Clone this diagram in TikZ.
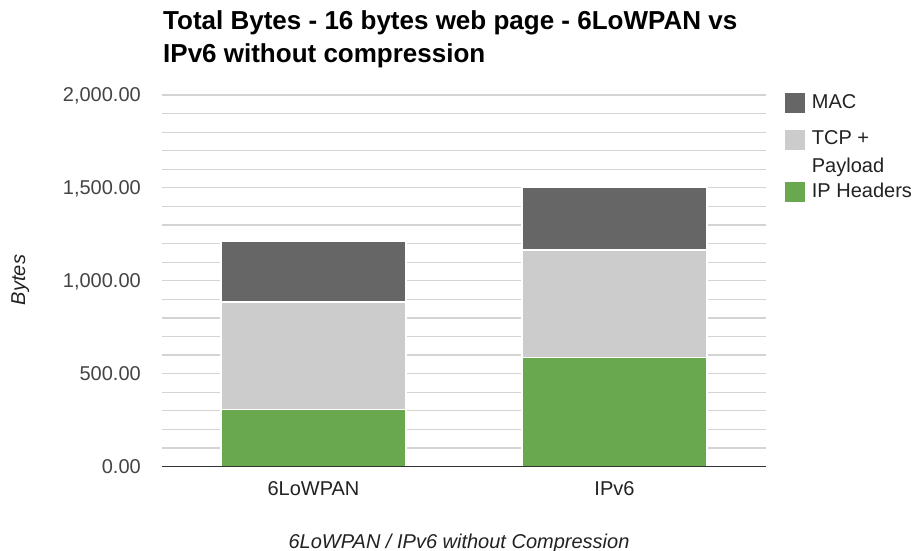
\documentclass[tikz,border=0pt]{standalone}
\usepackage{fontspec}
\setmainfont{Liberation Sans}
\definecolor{macc}{HTML}{666666}
\definecolor{tcpc}{HTML}{CCCCCC}
\definecolor{ipc}{HTML}{6AA84F}
\definecolor{gridc}{HTML}{D4D4D4}
\definecolor{labc}{HTML}{444444}
\definecolor{txtc}{HTML}{222222}
\definecolor{axisc}{HTML}{333333}
\begin{document}
\begin{tikzpicture}[x=1pt,y=-1pt,
  ticklab/.style={anchor=base east,font=\fontsize{20}{24}\selectfont,text=labc,inner sep=0pt},
  catlab/.style={anchor=base,font=\fontsize{20}{24}\selectfont,text=txtc,inner sep=0pt},
  axtitle/.style={font=\fontsize{20}{24}\selectfont\itshape,text=txtc,inner sep=0pt},
  legtext/.style={anchor=base west,font=\fontsize{20}{24}\selectfont,text=txtc,inner sep=0pt},
  titletext/.style={anchor=base west,font=\fontsize{26}{30}\selectfont\bfseries,text=black,inner sep=0pt},
  gridline/.style={draw=gridc,line width=1.2pt},
  seg/.style={draw=white,line width=1.2pt}]
\useasboundingbox (0,0) rectangle (914,551);
\fill[white] (0,0) rectangle (914,551);
% title
\node[titletext] (title1) at (163,29.5) {Total Bytes - 16 bytes web page - 6LoWPAN vs};
\node[titletext] (title2) at (163,62.7) {IPv6 without compression};
% grid
\foreach \i in {1,...,20}
  \draw[gridline] (162,{466.5-\i*18.575}) -- (766,{466.5-\i*18.575});
% tick labels
\node[ticklab] (t0) at (141,473.5) {0.00};
\node[ticklab] (t500) at (141,380.6) {500.00};
\node[ticklab] (t1000) at (141,287.75) {1,000.00};
\node[ticklab] (t1500) at (141,194.9) {1,500.00};
\node[ticklab] (t2000) at (141,102) {2,000.00};
% bars: 6LoWPAN
\filldraw[fill=ipc,seg] (221,466.5) rectangle (406,{466.5-308*0.18575});
\filldraw[fill=tcpc,seg] (221,{466.5-308*0.18575}) rectangle (406,{466.5-886*0.18575});
\filldraw[fill=macc,seg] (221,{466.5-886*0.18575}) rectangle (406,{466.5-1214*0.18575});
% bars: IPv6
\filldraw[fill=ipc,seg] (522,466.5) rectangle (707,{466.5-588*0.18575});
\filldraw[fill=tcpc,seg] (522,{466.5-588*0.18575}) rectangle (707,{466.5-1166*0.18575});
\filldraw[fill=macc,seg] (522,{466.5-1166*0.18575}) rectangle (707,{466.5-1503*0.18575});
% baseline
\draw[draw=axisc,line width=1.6pt] (162,466.5) -- (766,466.5);
% category labels
\node[catlab] (c1) at (313.5,495.7) {6LoWPAN};
\node[catlab] (c2) at (614.5,495.7) {IPv6};
% axis titles
\node[axtitle,anchor=base] (xtitle) at (459,548) {6LoWPAN / IPv6 without Compression};
\node[axtitle,anchor=base,rotate=90] (ytitle) at (25,280) {Bytes};
% legend
\fill[macc] (785,93.3) rectangle (805,113.3);
\fill[tcpc] (785,130) rectangle (805,150);
\fill[ipc] (785,181.7) rectangle (805,201.7);
\node[legtext] (l1) at (811.7,109) {MAC};
\node[legtext] (l2) at (811.7,145) {TCP +};
\node[legtext] (l2b) at (811.7,172) {Payload};
\node[legtext] (l3) at (811.7,197.3) {IP Headers};
\end{tikzpicture}
\end{document}
